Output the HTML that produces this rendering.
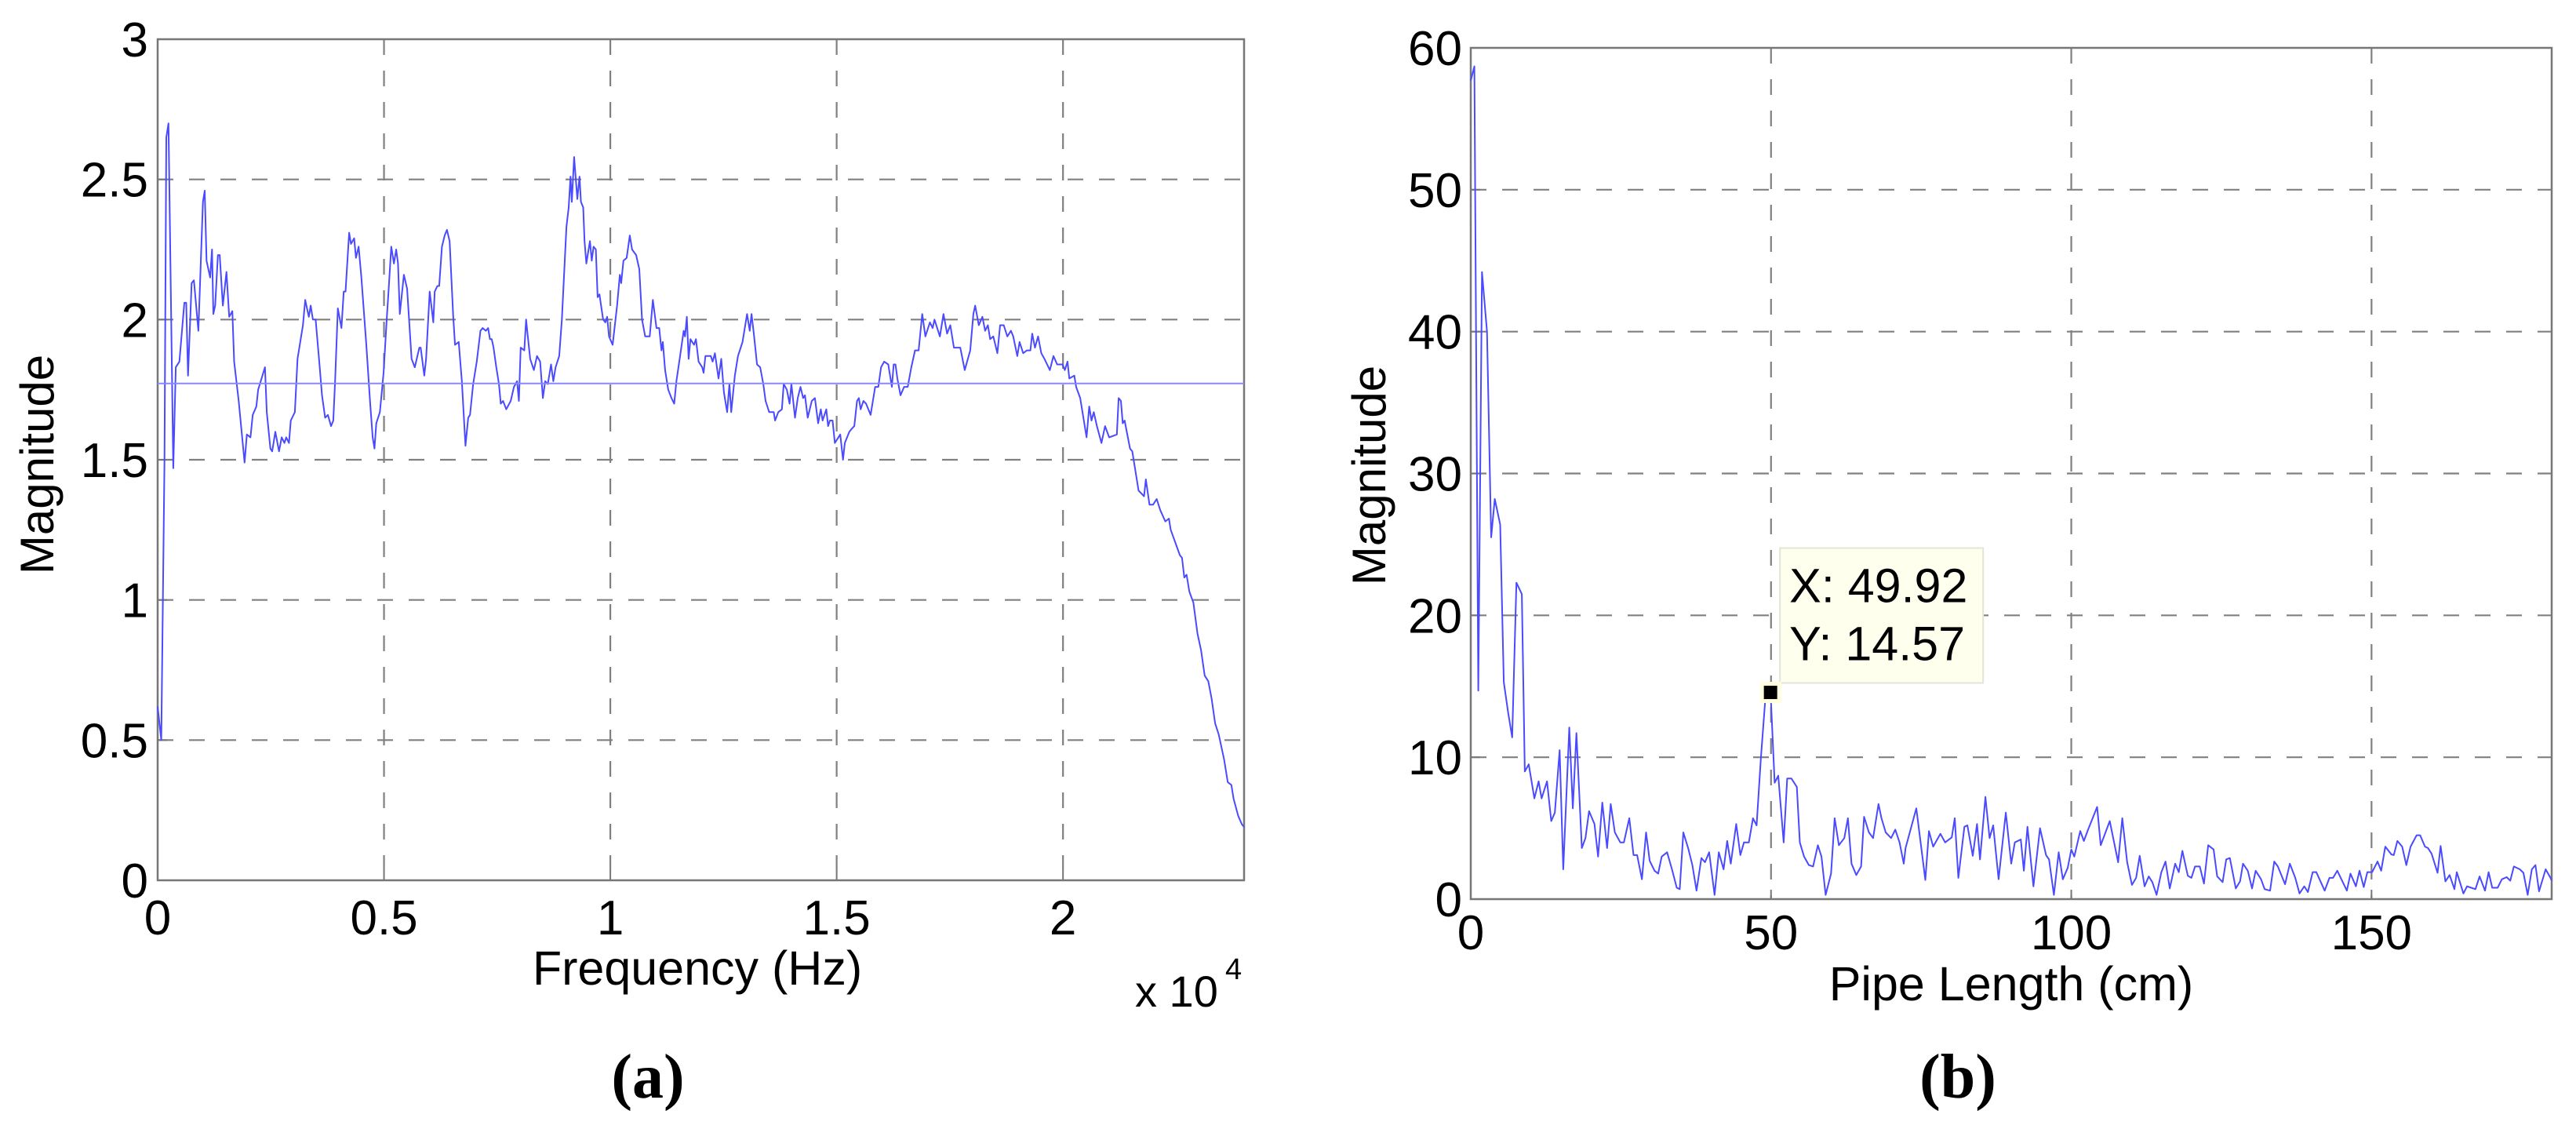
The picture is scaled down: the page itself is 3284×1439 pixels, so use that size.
<!DOCTYPE html>
<html><head><meta charset="utf-8"><style>
html,body{margin:0;padding:0;background:#fff;}
svg{display:block;}
text{font-family:"Liberation Sans",Arial,sans-serif;fill:#000;}
</style></head><body>
<svg id="fig" width="3284" height="1439" viewBox="0 0 3284 1439" xmlns="http://www.w3.org/2000/svg">
<g id="chartA"></g>
<g id="chartB"></g>
<text x="826" y="1399" text-anchor="middle" style="font-family:'Liberation Serif',serif;font-weight:bold;font-size:80px">(a)</text>
<text x="2496" y="1399" text-anchor="middle" style="font-family:'Liberation Serif',serif;font-weight:bold;font-size:80px">(b)</text>
</svg>
<script>
// ---- Chart A data (frequency in x10^4 Hz) ----
const freqX = [0,0.008,0.015,0.019,0.024,0.0345,0.040,0.048,0.059,0.063,0.067,0.075,0.080,0.090,0.100,0.104,0.108,0.116,0.120,0.123,0.127,0.133,0.137,0.144,0.152,0.158,0.165,0.169,0.179,0.192,0.197,0.205,0.210,0.218,0.222,0.237,0.241,0.249,0.253,0.260,0.268,0.274,0.280,0.284,0.290,0.294,0.303,0.309,0.321,0.326,0.334,0.338,0.343,0.349,0.357,0.363,0.370,0.376,0.383,0.388,0.392,0.398,0.406,0.411,0.415,0.423,0.427,0.434,0.438,0.444,0.450,0.461,0.469,0.475,0.479,0.483,0.491,0.499,0.506,0.510,0.516,0.522,0.527,0.531,0.535,0.544,0.551,0.561,0.568,0.578,0.581,0.589,0.593,0.601,0.609,0.612,0.618,0.622,0.628,0.634,0.639,0.645,0.653,0.657,0.665,0.672,0.680,0.686,0.690,0.697,0.705,0.713,0.718,0.725,0.730,0.734,0.738,0.742,0.748,0.754,0.758,0.763,0.770,0.780,0.787,0.794,0.798,0.802,0.810,0.814,0.817,0.823,0.831,0.838,0.845,0.851,0.856,0.862,0.869,0.874,0.879,0.887,0.893,0.903,0.908,0.912,0.915,0.920,0.927,0.932,0.935,0.940,0.943,0.947,0.955,0.959,0.963,0.968,0.972,0.976,0.984,0.989,0.993,0.997,1.005,1.015,1.021,1.024,1.029,1.036,1.043,1.048,1.057,1.064,1.070,1.077,1.087,1.094,1.102,1.108,1.113,1.116,1.121,1.128,1.135,1.141,1.146,1.154,1.162,1.165,1.169,1.173,1.177,1.185,1.189,1.195,1.203,1.206,1.210,1.222,1.226,1.231,1.239,1.245,1.251,1.258,1.263,1.267,1.275,1.282,1.292,1.302,1.308,1.312,1.317,1.324,1.331,1.338,1.343,1.351,1.361,1.364,1.371,1.379,1.383,1.390,1.396,1.400,1.408,1.414,1.420,1.426,1.430,1.436,1.445,1.452,1.459,1.465,1.469,1.477,1.481,1.485,1.491,1.496,1.508,1.514,1.518,1.528,1.533,1.539,1.545,1.549,1.553,1.559,1.565,1.575,1.585,1.592,1.598,1.605,1.614,1.622,1.626,1.630,1.634,1.641,1.649,1.657,1.665,1.673,1.681,1.689,1.696,1.706,1.712,1.716,1.728,1.736,1.744,1.751,1.759,1.773,1.783,1.795,1.802,1.806,1.814,1.822,1.828,1.834,1.839,1.846,1.855,1.861,1.869,1.877,1.885,1.890,1.899,1.904,1.912,1.920,1.928,1.932,1.938,1.945,1.952,1.959,1.971,1.979,1.987,1.999,2.004,2.010,2.014,2.025,2.029,2.038,2.052,2.058,2.063,2.068,2.075,2.085,2.093,2.102,2.119,2.123,2.128,2.132,2.136,2.148,2.153,2.167,2.179,2.183,2.191,2.199,2.207,2.215,2.226,2.234,2.238,2.258,2.263,2.268,2.273,2.279,2.288,2.297,2.305,2.313,2.321,2.328,2.336,2.344,2.356,2.364,2.372,2.377,2.387,2.395,2.400];
const freqMag = [0.62,0.50,1.50,2.65,2.70,1.47,1.83,1.85,2.06,2.06,1.80,2.13,2.14,1.96,2.42,2.46,2.21,2.15,2.25,2.02,2.05,2.23,2.23,2.05,2.17,2.01,2.03,1.85,1.71,1.49,1.59,1.58,1.66,1.69,1.75,1.83,1.67,1.54,1.53,1.60,1.53,1.58,1.56,1.58,1.56,1.64,1.67,1.86,1.98,2.07,2.01,2.05,2.00,2.00,1.85,1.73,1.65,1.66,1.62,1.64,1.78,2.04,1.97,2.10,2.10,2.31,2.27,2.29,2.22,2.26,2.15,1.91,1.71,1.58,1.54,1.63,1.67,1.81,2.00,2.10,2.26,2.20,2.25,2.20,2.02,2.16,2.11,1.86,1.83,1.90,1.90,1.80,1.86,2.10,1.99,2.10,2.12,2.12,2.26,2.30,2.32,2.28,2.01,1.91,1.92,1.78,1.55,1.65,1.66,1.77,1.85,1.96,1.97,1.96,1.97,1.93,1.93,1.90,1.83,1.77,1.70,1.71,1.68,1.71,1.76,1.78,1.71,1.90,1.89,2.00,1.95,1.86,1.82,1.87,1.85,1.72,1.78,1.77,1.84,1.78,1.83,1.87,2.00,2.33,2.40,2.51,2.42,2.58,2.43,2.51,2.42,2.40,2.28,2.20,2.28,2.21,2.26,2.25,2.08,2.09,2.00,1.99,2.01,1.94,1.91,2.05,2.16,2.13,2.21,2.22,2.30,2.25,2.23,2.18,2.00,1.94,1.94,2.07,1.97,1.97,1.89,1.92,1.82,1.75,1.72,1.70,1.78,1.87,1.96,1.94,2.01,1.86,1.93,1.91,1.93,1.85,1.83,1.81,1.87,1.87,1.85,1.88,1.79,1.86,1.74,1.67,1.77,1.67,1.80,1.87,1.92,2.02,1.96,2.02,1.95,1.84,1.83,1.77,1.71,1.67,1.67,1.64,1.67,1.68,1.77,1.75,1.70,1.77,1.65,1.72,1.76,1.72,1.73,1.65,1.71,1.72,1.63,1.68,1.64,1.68,1.62,1.64,1.64,1.56,1.59,1.50,1.56,1.60,1.61,1.62,1.71,1.72,1.68,1.71,1.70,1.66,1.76,1.76,1.83,1.85,1.84,1.76,1.84,1.84,1.79,1.73,1.76,1.76,1.83,1.89,1.89,2.02,1.94,1.99,1.97,2.00,1.94,2.02,1.95,1.98,1.90,1.90,1.82,1.89,2.02,2.05,1.98,2.01,1.96,1.98,1.93,1.94,1.88,1.98,1.98,1.94,1.96,1.94,1.87,1.92,1.88,1.89,1.89,1.95,1.90,1.94,1.88,1.86,1.82,1.87,1.84,1.84,1.82,1.85,1.79,1.80,1.76,1.72,1.58,1.69,1.64,1.67,1.62,1.56,1.62,1.58,1.59,1.72,1.71,1.63,1.64,1.54,1.53,1.39,1.37,1.43,1.34,1.34,1.36,1.32,1.28,1.29,1.25,1.16,1.15,1.08,1.09,1.03,0.99,0.88,0.82,0.73,0.71,0.65,0.56,0.52,0.43,0.35,0.34,0.29,0.23,0.20,0.19];
const freqMean = 1.772;
const freqXTicks = [0,0.5,1,1.5,2];
const freqXTickLabels = ["0","0.5","1","1.5","2"];
const freqYTicks = [0,0.5,1,1.5,2,2.5,3];
const freqYTickLabels = ["0","0.5","1","1.5","2","2.5","3"];

// ---- Chart B data (pipe length cm) ----
const pipeX = [0,0.6,1.26,1.87,2.7,3.4,4.0,4.9,5.5,6.2,6.9,7.6,8.5,9.0,9.65,10.6,11.3,11.8,12.7,13.4,14.0,14.8,15.4,16.4,17.0,17.6,18.5,19.1,19.7,20.6,21.2,21.9,22.7,23.3,24.0,24.9,25.5,26.4,27.1,27.7,28.5,29.2,29.8,30.6,31.2,31.8,32.7,33.5,34.3,34.8,35.4,36.2,36.9,37.6,38.4,39.0,39.7,40.6,41.3,42.1,42.7,43.3,44.2,44.9,45.5,46.3,47.0,47.6,48.3,49.1,49.92,50.6,51.2,52.1,52.7,53.4,54.3,54.8,55.5,56.3,57.0,57.8,58.4,59.1,60.0,60.6,61.3,62.2,62.8,63.4,64.2,65.0,65.5,66.3,67.0,67.9,68.4,69.1,70.0,70.7,71.4,72.1,72.4,74.2,75.7,76.3,77.0,78.2,79.0,80.1,80.6,81.2,82.2,82.7,83.6,84.3,84.8,85.7,86.4,87.0,87.9,89.1,90.0,90.6,91.6,92.1,92.7,93.7,94.8,95.8,96.3,97.1,97.9,98.6,99.4,100.0,100.5,101.5,102.1,102.8,104.3,104.9,106.4,107.8,108.5,109.3,110.1,110.8,111.4,112.2,112.9,113.5,114.2,115.0,115.7,116.4,117.3,117.9,118.5,119.4,120.0,120.6,121.4,122.1,122.8,123.7,124.3,125.2,125.8,126.4,127.4,128.1,128.6,129.4,130.1,130.7,131.6,132.2,133.1,133.8,134.4,135.6,136.4,137.3,138.0,138.8,139.4,140.2,140.8,142.2,143.0,143.6,144.3,145.9,146.5,147.4,148.0,148.7,149.3,150.1,151.0,151.6,152.3,153.3,153.7,154.3,155.1,155.8,156.5,157.5,158.1,158.9,159.4,160.0,161.0,161.5,162.3,163.0,163.8,164.2,165.3,165.9,166.6,167.3,168.0,168.9,169.5,170.1,171.0,171.7,172.5,173.1,173.7,174.7,175.3,176.0,176.7,177.3,177.9,179.0,179.8,180.0];
const pipeMag = [57.7,58.7,14.7,44.2,40.0,25.5,28.2,26.4,15.3,13.2,11.4,22.3,21.5,9.0,9.5,7.1,8.3,7.1,8.3,5.5,6.1,10.5,2.1,12.1,6.4,11.7,3.6,4.3,6.2,5.3,3.0,6.8,3.6,6.7,4.7,4.0,4.0,5.7,3.1,3.1,1.4,4.7,2.7,2.0,1.8,3.0,3.3,2.1,0.8,0.7,4.7,3.6,2.4,0.6,2.9,2.6,3.3,0.3,3.3,2.1,4.1,2.5,5.3,3.1,4.0,4.0,5.7,5.2,9.9,14.4,14.57,8.2,8.7,4.0,8.5,8.5,7.9,4.0,3.0,2.4,2.3,3.8,3.0,0.3,1.8,5.7,3.8,4.3,5.7,2.5,1.7,2.3,5.8,4.7,4.3,6.7,5.7,4.7,4.3,4.9,4.0,2.5,3.6,6.4,1.35,4.8,3.7,4.6,4.0,4.35,5.7,1.5,5.1,5.2,3.05,5.3,2.8,7.2,4.3,5.2,1.4,6.1,2.5,4.0,4.2,2.0,5.1,0.9,5.0,3.1,2.8,0.3,3.3,1.4,2.2,3.5,3.0,4.8,4.1,4.9,6.5,3.8,5.5,2.6,5.7,2.6,1.0,1.5,3.05,0.9,1.6,1.2,0.3,1.9,2.65,0.75,2.5,1.9,3.4,1.65,1.5,2.3,2.3,1.1,3.8,3.5,1.6,1.2,2.8,2.9,0.75,1.25,2.5,2.0,0.75,2.0,1.4,0.7,0.6,2.65,2.3,1.05,2.5,1.5,0.4,0.9,0.5,1.9,1.9,0.6,1.5,1.5,2.0,0.6,1.8,0.9,2.0,0.85,1.9,1.9,2.65,2.0,3.7,3.15,3.1,4.1,3.7,2.4,3.7,4.5,4.5,3.7,3.6,3.2,1.85,3.75,1.25,1.7,0.7,1.9,0.4,0.9,0.8,0.7,1.6,0.6,1.9,0.8,0.8,1.4,1.55,1.3,2.3,2.1,1.85,0.3,2.1,2.4,0.55,2.1,1.5,1.3];
const markerX = 49.92;
const markerY = 14.57;
const pipeXTicks = [0,50,100,150];
const pipeXTickLabels = ["0","50","100","150"];
const pipeYTicks = [0,10,20,30,40,50,60];
const pipeYTickLabels = ["0","10","20","30","40","50","60"];

const NS = "http://www.w3.org/2000/svg";
function mk(parent, tag, attrs, txt){
  const e = document.createElementNS(NS, tag);
  for (const k in attrs) e.setAttribute(k, attrs[k]);
  if (txt !== undefined) e.textContent = txt;
  parent.appendChild(e);
  return e;
}

function drawChart(g, cfg){
  const sx = v => cfg.x0 + (v - cfg.xmin) / (cfg.xmax - cfg.xmin) * (cfg.x1 - cfg.x0);
  const sy = v => cfg.y0 - (v - cfg.ymin) / (cfg.ymax - cfg.ymin) * (cfg.y0 - cfg.y1);
  // grid
  cfg.xt.forEach((t,i) => {
    if (t > cfg.xmin && t < cfg.xmax) {
      const l = mk(g, 'line', {x1:sx(t), x2:sx(t), y1:cfg.y1, y2:cfg.y0, stroke:'#808080', 'stroke-width':2.2, 'stroke-dasharray':'20 20'});
      
      
    }
  });
  cfg.yt.forEach((t,i) => {
    if (t > cfg.ymin && t < cfg.ymax) {
      const l = mk(g, 'line', {x1:cfg.x0, x2:cfg.x1, y1:sy(t), y2:sy(t), stroke:'#808080', 'stroke-width':2.2, 'stroke-dasharray':'20 20'});
      
      
    }
  });
  // axes box
  const box = mk(g, 'rect', {x:cfg.x0, y:cfg.y1, width:cfg.x1-cfg.x0, height:cfg.y0-cfg.y1, fill:'none', stroke:'#777', 'stroke-width':2.5});
  
  
  // ticks and labels
  cfg.xt.forEach((t,i) => {
    mk(g, 'line', {x1:sx(t), x2:sx(t), y1:cfg.y0, y2:cfg.y0-12, stroke:'#777', 'stroke-width':2});
    const tx = mk(g, 'text', {x:sx(t), y:cfg.xlabY, 'text-anchor':'middle', 'font-size':62}, cfg.xl[i]);
    
    
  });
  cfg.yt.forEach((t,i) => {
    mk(g, 'line', {x1:cfg.x0, x2:cfg.x0+12, y1:sy(t), y2:sy(t), stroke:'#777', 'stroke-width':2});
    const ty = mk(g, 'text', {x:cfg.ylabX, y:sy(t)+22, 'text-anchor':'end', 'font-size':62}, cfg.yl[i]);
    
    
  });
  // series
  let d = '';
  cfg.xs.forEach((v,i) => { d += (i ? 'L' : 'M') + sx(v).toFixed(1) + ' ' + sy(cfg.ys[i]).toFixed(1); });
  const p = mk(g, 'path', {d:d, fill:'none', stroke:'#4a4aff', 'stroke-width':2, 'stroke-linejoin':'round'});
  
  
  return {sx, sy};
}

const gA = document.getElementById('chartA');
const A = drawChart(gA, {x0:201, x1:1586, y0:1122, y1:50, xmin:0, xmax:2.4, ymin:0, ymax:3,
  xt:freqXTicks, xl:freqXTickLabels, yt:freqYTicks, yl:freqYTickLabels, xs:freqX, ys:freqMag, xlabY:1191, ylabX:189});
const mean = mk(gA, 'line', {x1:A.sx(0), x2:A.sx(2.4), y1:A.sy(freqMean), y2:A.sy(freqMean), stroke:'#8888ff', 'stroke-width':2});


const xtA = mk(gA, 'text', {x:889, y:1255, 'text-anchor':'middle', 'font-size':61}, 'Frequency (Hz)');


const expA = mk(gA, 'text', {x:1447, y:1283, 'font-size':56}, 'x 10');


const supA = mk(gA, 'text', {x:1562, y:1248, 'font-size':38}, '4');


const ytA = mk(gA, 'text', {x:0, y:0, 'text-anchor':'middle', 'font-size':60, transform:'translate(68,592) rotate(-90)'}, 'Magnitude');



const gB = document.getElementById('chartB');
const B = drawChart(gB, {x0:1875, x1:3253, y0:1146, y1:61, xmin:0, xmax:180, ymin:0, ymax:60,
  xt:pipeXTicks, xl:pipeXTickLabels, yt:pipeYTicks, yl:pipeYTickLabels, xs:pipeX, ys:pipeMag, xlabY:1210, ylabX:1864});
const xtB = mk(gB, 'text', {x:2564, y:1275, 'text-anchor':'middle', 'font-size':61}, 'Pipe Length (cm)');


const ytB = mk(gB, 'text', {x:0, y:0, 'text-anchor':'middle', 'font-size':60, transform:'translate(1766,606) rotate(-90)'}, 'Magnitude');


// data tip
const mx = B.sx(markerX), my = B.sy(markerY);
const tipBox = mk(gB, 'rect', {x:mx+12, y:my-184, width:259, height:172, fill:'#ffffee', stroke:'#e4e4d8', 'stroke-width':2});


const tipX = mk(gB, 'text', {x:mx+24, y:my-115, 'font-size':61}, 'X: ' + markerX.toFixed(2));


const tipY = mk(gB, 'text', {x:mx+24, y:my-41, 'font-size':61}, 'Y: ' + markerY.toFixed(2));


const mark = mk(gB, 'rect', {x:mx-11, y:my-11, width:22, height:22, fill:'#000', stroke:'#ffffdd', 'stroke-width':5});


</script>
</body></html>
